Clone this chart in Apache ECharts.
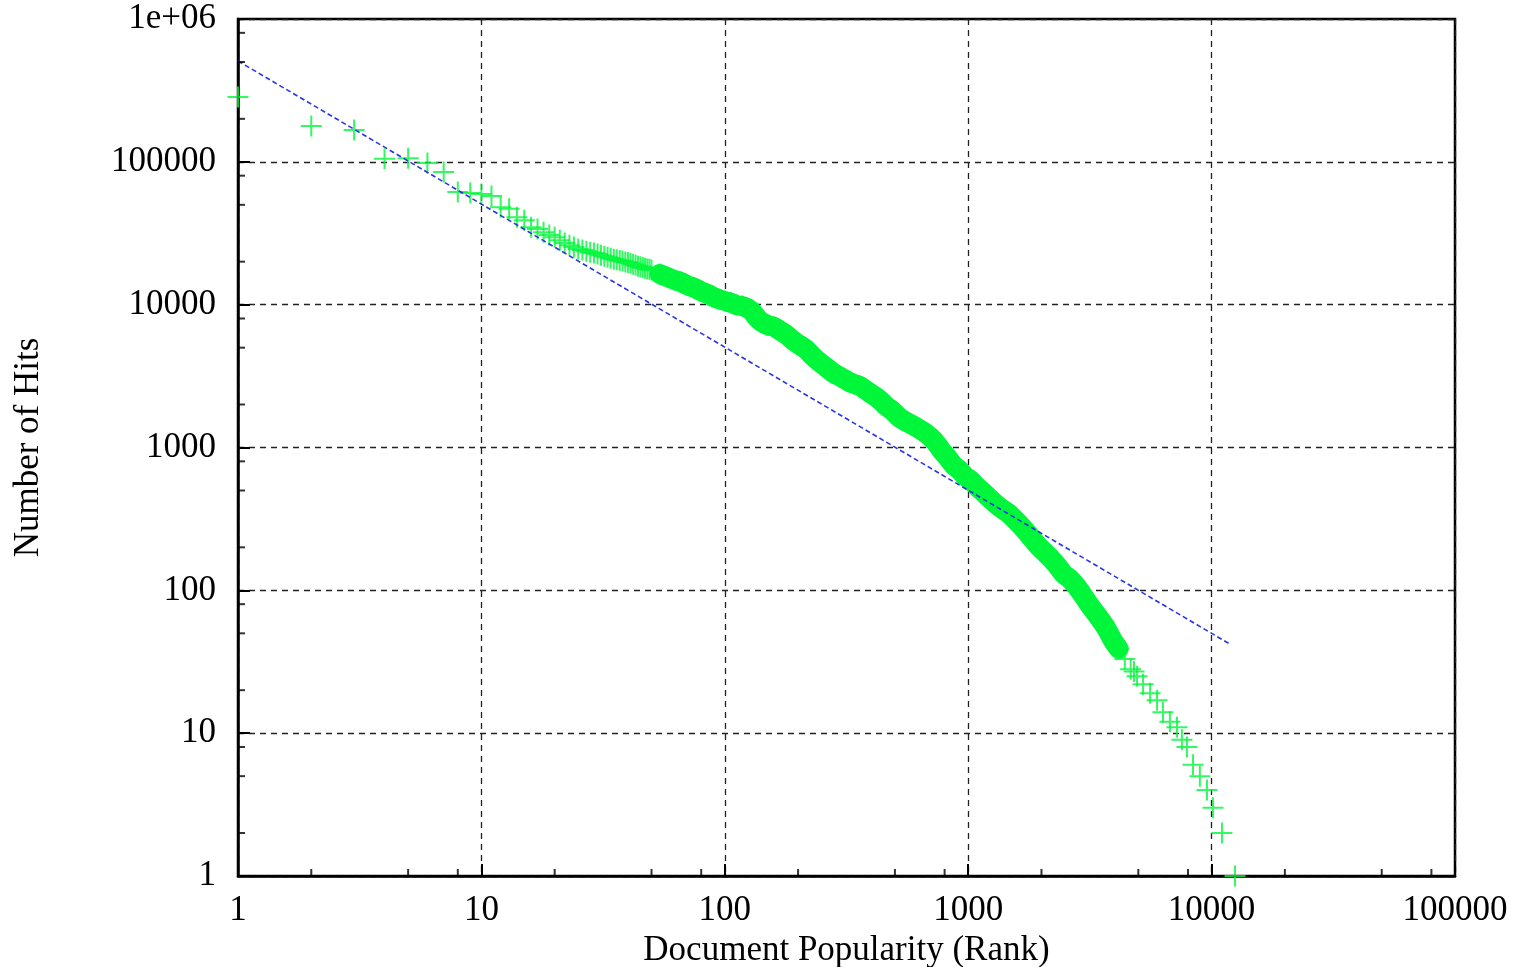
<!DOCTYPE html>
<html>
<head>
<meta charset="utf-8">
<script src="https://cdn.jsdelivr.net/npm/echarts@6/dist/echarts.min.js"></script>
<style>
html,body{margin:0;padding:0;background:#fff;}
#chart{width:1527px;height:967px;}
</style>
</head>
<body>
<div id="chart"></div>
<script>
// Observed document popularity (rank vs. hits)
var ranks = [1,2,3,4,5,6,7,8,9,10,11,12,13,14,15,16,17,18,19,20,21,22,23,24,25,26,27,28,29,30,31,32,33,34,35,36,37,38,39,40,41,42,43,44,45,46,47,48,49,50,54,58,62,66,70,75,80,85,90,95,100,106,112,118,124,130,136,142,150,160,170,180,190,200,215,230,245,260,280,300,320,340,360,380,400,430,460,490,520,550,580,620,660,700,740,780,820,870,920,970,1020,1080,1150,1220,1300,1380,1460,1550,1650,1750,1850,1960,2080,2200,2330,2470,2620,2780,2940,3120,3300,3500,3700,3920,4150,4400,4650,4800,4940,5230,5590,5970,6310,6740,7210,7550,7920,8390,8950,9570,10130,11030,12480];
var hits = [284000,178000,167000,105000,106000,98000,85000,61500,60500,59600,57700,48000,47000,41000,39000,34900,33800,32200,30700,29700,28300,27000,26100,25300,24500,24100,23700,23300,23000,22600,22200,21800,21500,21100,20800,20600,20400,20200,19900,19700,19500,19200,18900,18600,18400,18200,18000,17800,17700,17500,16400,15600,14900,14400,13700,13100,12400,11900,11300,10900,10600,10300,9930,9770,9460,8870,8050,7550,7190,6970,6530,6120,5650,5300,4890,4360,3960,3660,3320,3110,2920,2780,2690,2520,2370,2180,1950,1800,1630,1530,1460,1370,1280,1180,1070,944,857,753,695,631,592,537,488,443,402,371,348,315,282,252,225,201,182,165,148,130,120,107,94,81,71,62,54,45,39,33,28,27,25,22,19,17,14,12,11,9,8,6,5,4,3,2,1];
// Fitted power law (endpoints)
var fitRanks = [1, 11900];
var fitHits = [508000, 42];
// Axis ticks
var xMinorTicks = [2,5,8,20,50,80,200,500,800,2000,5000,8000,20000,50000,80000];
var yMinorTicks = [2,5,8,20,50,80,200,500,800,2000,5000,8000,20000,50000,80000,200000,500000,800000];
// dense band range (ranks where markers merge)
var bandFrom = 54, bandTo = 4150;

var GREEN = '#00f63a';
var FONT = 'Liberation Serif';
var plus = 'path://M9.5,0H11.5V21H9.5ZM0,9.5H21V11.5H0Z';

var obs = ranks.map(function(r,i){return [r, hits[i]];});
var band = obs.filter(function(p){return p[0] >= bandFrom && p[0] <= bandTo;});
var fit = fitRanks.map(function(r,i){return [r, fitHits[i]];});

var chart = echarts.init(document.getElementById('chart'), null, {renderer:'canvas'});
var gridLine = {show:true, lineStyle:{color:'#222', width:1.3, type:[6,5]}};
chart.setOption({
  animation:false,
  backgroundColor:'#fff',
  grid:{left:238, right:72, top:19, bottom:91, show:true, borderColor:'#000', borderWidth:2.5, backgroundColor:'transparent', outerBoundsMode:'none', containLabel:false},
  xAxis:{
    type:'log', logBase:10, min:1, max:100000, splitNumber:5,
    name:'Document Popularity (Rank)', nameLocation:'middle', nameGap:52,
    nameTextStyle:{fontFamily:FONT, fontSize:35, color:'#000'},
    axisLine:{show:true, onZero:false, lineStyle:{color:'#000', width:2.5}},
    axisTick:{show:true, inside:true, length:12, lineStyle:{color:'#000', width:2}},
    axisLabel:{fontFamily:FONT, fontSize:35, color:'#000', margin:17,
      formatter:function(v){return String(Math.round(v));}},
    splitLine:gridLine, minorTick:{show:false}, minorSplitLine:{show:false}
  },
  yAxis:{
    type:'log', logBase:10, min:1, max:1000000, splitNumber:6,
    name:'Number of Hits', nameLocation:'middle', nameGap:192, nameRotate:90,
    nameTextStyle:{fontFamily:FONT, fontSize:35, color:'#000'},
    axisLine:{show:true, onZero:false, lineStyle:{color:'#000', width:2.5}},
    axisTick:{show:true, inside:true, length:12, lineStyle:{color:'#000', width:2}},
    axisLabel:{fontFamily:FONT, fontSize:35, color:'#000', margin:22,
      formatter:function(v){var n=Math.round(v); return n===1000000?'1e+06':String(n);}},
    splitLine:gridLine, minorTick:{show:false}
  },
  series:[
    {type:'scatter', name:'xminor', data:xMinorTicks.map(function(v){return [v,1];}),
     symbol:'rect', symbolSize:[2,7], symbolOffset:[0,-3.5], clip:false, silent:true,
     itemStyle:{color:'#000'}, z:5},
    {type:'scatter', name:'yminor', data:yMinorTicks.map(function(v){return [1,v];}),
     symbol:'rect', symbolSize:[7,2], symbolOffset:[3.5,0], clip:false, silent:true,
     itemStyle:{color:'#000'}, z:5},
    {type:'line', name:'band', data:band, showSymbol:false, smooth:0.3,
     lineStyle:{color:GREEN, width:20, cap:'round', join:'round'}, z:2, silent:true},
    {type:'scatter', name:'Observed', data:obs, symbol:plus, symbolSize:21, clip:false,
     itemStyle:{color:GREEN}, z:3},
    {type:'line', name:'Fit', data:fit, showSymbol:false, clip:false,
     lineStyle:{color:'#2a35e6', width:1.6, type:[5,3]}, z:4}
  ]
});
</script>
</body>
</html>
